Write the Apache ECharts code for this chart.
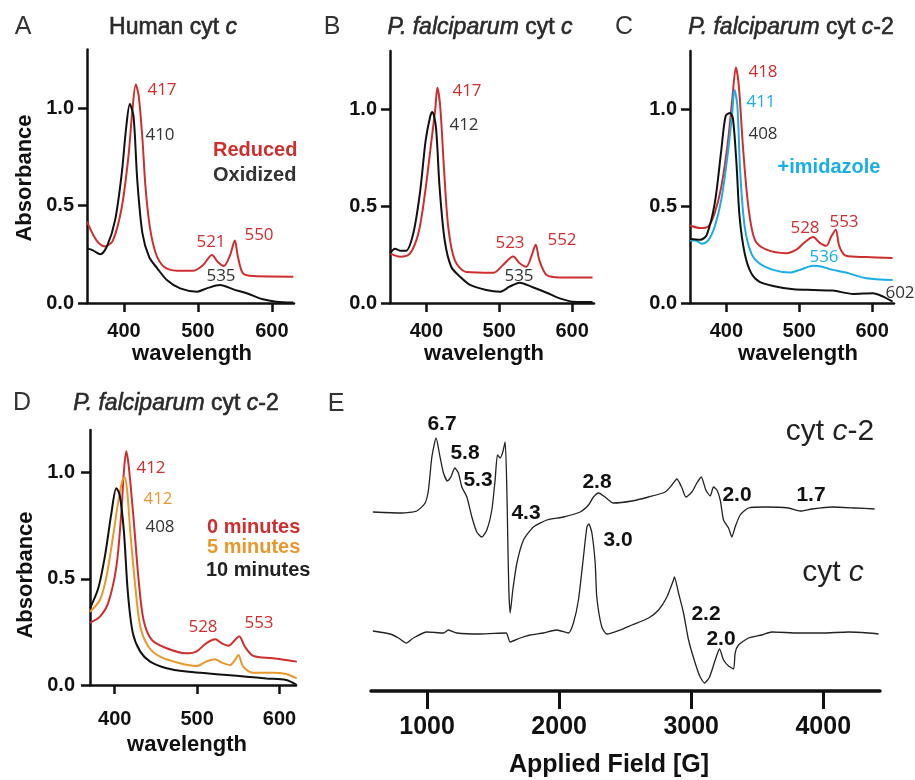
<!DOCTYPE html>
<html><head><meta charset="utf-8">
<script src="https://cdn.jsdelivr.net/npm/echarts@6/dist/echarts.min.js"></script>
<style>html,body{margin:0;padding:0;background:#fff}#c{width:915px;height:780px}</style>
</head><body><div id="c"></div>
<script>
// ---------- Panel A : Human cyt c ----------
const humanRedWl  = [350,363,374,385,397,406,411,416,420,425,429,435,443,454,472,494,507,519,527,535,543,550,554,561,575,629];
const humanRedAbs = [0.417,0.32,0.29,0.32,0.49,0.75,0.97,1.12,1.06,0.84,0.60,0.39,0.255,0.186,0.166,0.166,0.195,0.246,0.21,0.19,0.24,0.32,0.24,0.152,0.138,0.135];
const humanOxWl   = [350,358,368,377,388,397,403,408,413,418,425,434,445,458,476,499,512,530,548,566,588,606,629];
const humanOxAbs  = [0.28,0.27,0.25,0.29,0.425,0.665,0.90,1.02,0.955,0.63,0.357,0.237,0.178,0.118,0.075,0.058,0.075,0.092,0.07,0.05,0.019,0.007,0.002];
// ---------- Panel B : P. falciparum cyt c ----------
const pfRedWl  = [350,364,377,389,398,407,412,415,419,424,430,439,455,492,505,519,528,537,544,550,555,565,583,628];
const pfRedAbs = [0.256,0.239,0.253,0.36,0.565,0.84,0.995,1.11,1.01,0.70,0.39,0.22,0.16,0.156,0.196,0.24,0.205,0.187,0.24,0.30,0.22,0.144,0.132,0.132];
const pfOxWl   = [350,357,364,372,382,391,399,405,408,413,418,425,434,446,460,482,501,514,528,546,565,583,601,628];
const pfOxAbs  = [0.256,0.28,0.27,0.27,0.36,0.565,0.84,0.96,0.985,0.91,0.60,0.325,0.187,0.136,0.093,0.067,0.058,0.084,0.105,0.081,0.053,0.024,0.007,0.005];
// ---------- Panel C : P. falciparum cyt c-2 ----------
const c2RedWl  = [350,364,375,384,393,402,408,413,417,423,430,439,455,482,496,507,519,528,537,544,550,555,564,592,628];
const c2RedAbs = [0.40,0.387,0.395,0.465,0.60,0.83,1.05,1.215,1.12,0.79,0.50,0.326,0.275,0.257,0.275,0.312,0.34,0.31,0.295,0.344,0.378,0.292,0.244,0.237,0.232];
const c2ImWl   = [350,357,366,375,384,393,402,408,411,415,419,425,434,445,464,487,501,519,530,546,564,592,628];
const c2ImAbs  = [0.323,0.323,0.306,0.323,0.395,0.534,0.775,0.983,1.10,1.017,0.67,0.395,0.257,0.205,0.171,0.157,0.171,0.192,0.188,0.171,0.157,0.128,0.119];
const c2OxWl   = [350,364,373,384,393,399,405,409,414,418,425,434,445,464,492,519,546,574,601,615,628];
const c2OxAbs  = [0.33,0.326,0.352,0.515,0.79,0.966,0.98,0.95,0.706,0.447,0.257,0.154,0.11,0.088,0.071,0.067,0.064,0.047,0.05,0.033,0.007];
// ---------- Panel D : time course ----------
const t0Wl   = [370,382,392,402,408,411,414,417,423,429,435,445,463,487,499,511,522,530,538,546,551,558,568,592,621];
const t0Abs  = [0.293,0.322,0.385,0.557,0.81,0.997,1.10,1.03,0.777,0.495,0.306,0.212,0.173,0.149,0.157,0.196,0.215,0.196,0.185,0.212,0.23,0.18,0.137,0.126,0.11];
const t5Wl   = [370,382,390,398,404,409,412,415,419,425,431,441,455,479,499,511,522,530,540,546,550,556,568,592,608,621];
const t5Abs  = [0.345,0.40,0.51,0.70,0.856,0.958,0.978,0.918,0.715,0.463,0.275,0.18,0.133,0.102,0.089,0.11,0.121,0.105,0.094,0.118,0.141,0.086,0.058,0.058,0.052,0.031];
const t10Wl  = [370,380,388,396,402,406,411,416,422,431,443,463,487,511,536,560,584,608,621];
const t10Abs = [0.361,0.455,0.604,0.809,0.926,0.895,0.73,0.432,0.244,0.157,0.11,0.079,0.063,0.055,0.047,0.039,0.031,0.024,0.0];
// ---------- Panel E : EPR (arbitrary units, traces offset) ----------
const eprC2Field  = [589,808,922,985,1010,1036,1068,1098,1124,1154,1180,1210,1237,1263,1301,1339,1376,1414,1452,1490,1515,1533,1553,1573,1591,1604,1611,1619,1629,1649,1680,1730,1805,1907,2033,2159,2222,2260,2298,2348,2411,2551,2677,2803,2854,2892,2930,2960,3005,3043,3076,3111,3144,3169,3195,3220,3245,3283,3308,3333,3371,3434,3561,3737,3826,3914,4066,4242,4389];
const eprC2Signal = [179,178,180,188,201,234,253,234,218,210,214,223,218,204,194,174,159,154,161,181,211,236,233,239,249,201,151,101,78,101,128,151,164,171,174,179,186,194,198,194,188,190,194,199,206,212,203,194,199,208,214,201,195,204,201,191,171,163,154,164,176,183,184,183,180,182,184,183,182];
const eprCField   = [589,720,783,841,896,998,1124,1161,1225,1402,1598,1629,1705,1780,1881,1982,2070,2108,2146,2184,2210,2225,2248,2273,2285,2323,2361,2462,2551,2677,2753,2816,2866,2873,2904,2942,2980,3030,3068,3101,3139,3182,3215,3245,3283,3321,3333,3358,3434,3535,3611,3813,3990,4192,4343,4419];
const eprCSignal  = [60,57,53,48,53,59,58,61,58,57,58,49,53,56,58,61,58,68,91,134,164,167,158,128,94,64,57,61,66,73,81,94,111,114,98,78,51,28,14,8,14,31,42,31,25,22,38,46,53,56,59,58,58,59,58,57];
// tick labels
const wlTicks = [400,500,600];
const absTicks = [0,0.5,1.0];
const fieldTicks = [1000,2000,3000,4000];

const RED='#cf2e2e', BLUE='#1aaee6', ORANGE='#e8982c', BLACK='#111111', DARK='#333333';
const FS='"Liberation Sans", Arial, Helvetica, sans-serif';
const FN='"Open Sans", "Liberation Sans", sans-serif';
const zip=(a,b)=>a.map((v,i)=>[v,b[i]]);

const chart=echarts.init(document.getElementById('c'),null,{renderer:'canvas'});

function xAx(g,min,max,margin){return {type:'value',gridIndex:g,min,max,
  axisLine:{onZero:false,lineStyle:{color:BLACK,width:2.5}},
  axisTick:{customValues:wlTicks,length:9,lineStyle:{color:BLACK,width:2.5}},
  axisLabel:{customValues:wlTicks,margin,color:BLACK,fontSize:20,fontWeight:'bold',fontFamily:FS,formatter:v=>String(v)},
  splitLine:{show:false}};}
function yAx(g,max,margin){return {type:'value',gridIndex:g,min:0,max,
  axisLine:{show:true,onZero:false,lineStyle:{color:BLACK,width:2.5}},
  axisTick:{show:true,customValues:absTicks,length:9,lineStyle:{color:BLACK,width:2.5}},
  axisLabel:{customValues:absTicks,margin,color:BLACK,fontSize:20,fontWeight:'bold',fontFamily:FS,formatter:v=>v.toFixed(1)},
  splitLine:{show:false}};}
function ln(g,wl,ab,color,w){return {type:'line',xAxisIndex:g,yAxisIndex:g,data:zip(wl,ab),showSymbol:false,
  smooth:0.3,lineStyle:{color,width:w||2},itemStyle:{color},silent:true};}

function T(x,y,text,o){return {type:'text',x,y,silent:true,style:Object.assign({text,fill:DARK,fontSize:17,fontFamily:FN,align:'center',verticalAlign:'middle'},o||{})};}
function titleT(x,y,text){const f=23,c='#2a2a2a';const base={fontSize:f,fontFamily:FS,fill:c,stroke:c,lineWidth:0.6};
  return {type:'text',x,y,silent:true,style:Object.assign({text,align:'center',verticalAlign:'middle',
  rich:{i:Object.assign({fontStyle:'italic'},base),n:Object.assign({},base)}},base)};}
function rotT(x,y,text){return {type:'text',x,y,rotation:Math.PI/2,silent:true,style:{text,fill:BLACK,fontSize:22,fontWeight:'bold',fontFamily:FS,align:'center',verticalAlign:'middle'}};}

const option={
  animation:false,
  backgroundColor:'#fff',
  grid:[
    {left:87,top:49.5,width:207,height:253.5},
    {left:390,top:51,width:204,height:252},
    {left:690,top:51,width:204,height:252},
    {left:90,top:430,width:206,height:255},
    {left:371,top:391,width:509,height:300}
  ],
  xAxis:[xAx(0,350,630,18),xAx(1,350,630,18),xAx(2,350,630,18),xAx(3,370,620,24),
    {type:'value',gridIndex:4,min:575,max:4430,
     axisLine:{onZero:false,lineStyle:{color:BLACK,width:3.5}},
     axisTick:{customValues:fieldTicks,length:18,lineStyle:{color:BLACK,width:3}},
     axisLabel:{customValues:fieldTicks,margin:24,color:BLACK,fontSize:25,fontWeight:'bold',fontFamily:FS,formatter:v=>String(v)},
     splitLine:{show:false}}],
  yAxis:[yAx(0,1.3,13),yAx(1,1.3,13),yAx(2,1.3,13),yAx(3,1.2,15),
    {type:'value',gridIndex:4,min:0,max:300,show:false}],
  series:[
    ln(0,humanRedWl,humanRedAbs,RED),ln(0,humanOxWl,humanOxAbs,BLACK),
    ln(1,pfRedWl,pfRedAbs,RED),ln(1,pfOxWl,pfOxAbs,BLACK),
    ln(2,c2RedWl,c2RedAbs,RED),ln(2,c2ImWl,c2ImAbs,BLUE),ln(2,c2OxWl,c2OxAbs,BLACK),
    ln(3,t0Wl,t0Abs,RED),ln(3,t5Wl,t5Abs,ORANGE),ln(3,t10Wl,t10Abs,BLACK),
    {type:'line',xAxisIndex:4,yAxisIndex:4,data:zip(eprC2Field,eprC2Signal),showSymbol:false,smooth:0.2,lineStyle:{color:'#222',width:1.3},silent:true},
    {type:'line',xAxisIndex:4,yAxisIndex:4,data:zip(eprCField,eprCSignal),showSymbol:false,smooth:0.2,lineStyle:{color:'#222',width:1.3},silent:true}
  ],
  graphic:[
    // panel letters
    T(23,27,'A',{fontSize:25,fontFamily:FS,fill:'#333'}),
    T(332,27,'B',{fontSize:25,fontFamily:FS,fill:'#333'}),
    T(624,27,'C',{fontSize:25,fontFamily:FS,fill:'#333'}),
    T(22,403,'D',{fontSize:25,fontFamily:FS,fill:'#333'}),
    T(336,404,'E',{fontSize:25,fontFamily:FS,fill:'#333'}),
    // titles
    titleT(173,28,'{n|Human cyt }{i|c}'),
    titleT(480,28,'{i|P. falciparum}{n| cyt }{i|c}'),
    titleT(791,28,'{i|P. falciparum}{n| cyt }{i|c}{n|-2}'),
    titleT(176,404,'{i|P. falciparum}{n| cyt }{i|c}{n|-2}'),
    // axis names
    rotT(25,178,'Absorbance'),
    rotT(26,575,'Absorbance'),
    T(192,354,'wavelength',{fontSize:22,fontWeight:'bold',fontFamily:FS,fill:BLACK}),
    T(484,354,'wavelength',{fontSize:22,fontWeight:'bold',fontFamily:FS,fill:BLACK}),
    T(798,354,'wavelength',{fontSize:22,fontWeight:'bold',fontFamily:FS,fill:BLACK}),
    T(187,745,'wavelength',{fontSize:22,fontWeight:'bold',fontFamily:FS,fill:BLACK}),
    T(609,765,'Applied Field [G]',{fontSize:25,fontWeight:'bold',fontFamily:FS,fill:BLACK}),
    // panel A annotations
    T(162,90,'417',{fill:RED}),T(160,135,'410'),T(211,242,'521',{fill:RED}),T(259,235,'550',{fill:RED}),T(221,276,'535'),
    T(213,150,'Reduced',{fill:RED,fontWeight:'bold',fontFamily:FS,fontSize:20,align:'left'}),
    T(213,175,'Oxidized',{fill:DARK,fontWeight:'bold',fontFamily:FS,fontSize:20,align:'left'}),
    // panel B
    T(467,91,'417',{fill:RED}),T(464,125,'412'),T(510,243,'523',{fill:RED}),T(562,240,'552',{fill:RED}),T(519,276,'535'),
    // panel C
    T(763,72,'418',{fill:RED}),T(761,102,'411',{fill:BLUE}),T(763,134,'408'),
    T(829,167,'+imidazole',{fill:BLUE,fontWeight:'bold',fontFamily:FS,fontSize:20}),
    T(805,228,'528',{fill:RED}),T(844,222,'553',{fill:RED}),T(824,257,'536',{fill:BLUE}),T(900,293,'602'),
    // panel D
    T(151,468,'412',{fill:RED}),T(158,499,'412',{fill:ORANGE}),T(160,527,'408'),
    T(207,527,'0 minutes',{fill:RED,fontWeight:'bold',fontFamily:FS,fontSize:20,align:'left'}),
    T(207,547,'5 minutes',{fill:ORANGE,fontWeight:'bold',fontFamily:FS,fontSize:20,align:'left'}),
    T(206,570,'10 minutes',{fill:'#222',fontWeight:'bold',fontFamily:FS,fontSize:20,align:'left'}),
    T(203,627,'528',{fill:RED}),T(259,623,'553',{fill:RED}),
    // panel E
    T(442,424,'6.7',{fill:BLACK,fontWeight:'bold',fontFamily:FS,fontSize:21}),
    T(465,453,'5.8',{fill:BLACK,fontWeight:'bold',fontFamily:FS,fontSize:21}),
    T(478,480,'5.3',{fill:BLACK,fontWeight:'bold',fontFamily:FS,fontSize:21}),
    T(526,513,'4.3',{fill:BLACK,fontWeight:'bold',fontFamily:FS,fontSize:21}),
    T(597,482,'2.8',{fill:BLACK,fontWeight:'bold',fontFamily:FS,fontSize:21}),
    T(618,540,'3.0',{fill:BLACK,fontWeight:'bold',fontFamily:FS,fontSize:21}),
    T(737,495,'2.0',{fill:BLACK,fontWeight:'bold',fontFamily:FS,fontSize:21}),
    T(811,495,'1.7',{fill:BLACK,fontWeight:'bold',fontFamily:FS,fontSize:21}),
    T(706,614,'2.2',{fill:BLACK,fontWeight:'bold',fontFamily:FS,fontSize:21}),
    T(721,639,'2.0',{fill:BLACK,fontWeight:'bold',fontFamily:FS,fontSize:21}),
    {type:'text',x:830,y:432,silent:true,style:{text:'{n|cyt }{i|c}{n|-2}',align:'center',verticalAlign:'middle',fontSize:30,fontFamily:FS,fill:'#222',
      rich:{n:{fontSize:30,fontFamily:FS,fill:'#222'},i:{fontSize:30,fontFamily:FS,fontStyle:'italic',fill:'#222'}}}},
    {type:'text',x:833,y:573,silent:true,style:{text:'{n|cyt }{i|c}',align:'center',verticalAlign:'middle',fontSize:30,fontFamily:FS,fill:'#222',
      rich:{n:{fontSize:30,fontFamily:FS,fill:'#222'},i:{fontSize:30,fontFamily:FS,fontStyle:'italic',fill:'#222'}}}}
  ]
};
chart.setOption(option);
</script></body></html>
